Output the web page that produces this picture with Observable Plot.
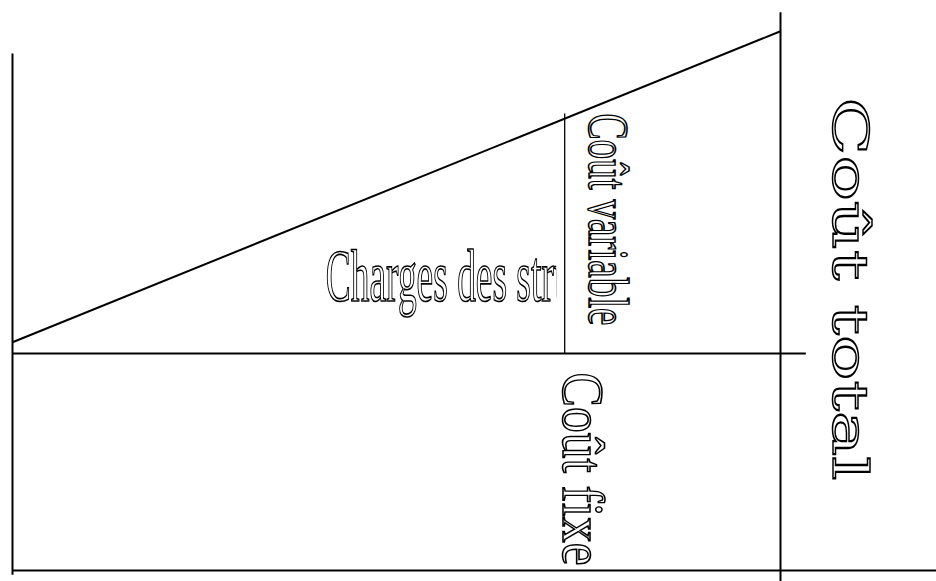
<!DOCTYPE html>
<html>
<head>
<meta charset="utf-8">
<script src="https://cdn.jsdelivr.net/npm/d3@7"></script>
<script src="https://cdn.jsdelivr.net/npm/@observablehq/plot@0.6"></script>
<style>
  html, body { margin: 0; padding: 0; background: #fff; }
  svg { display: block; }
</style>
</head>
<body>
<div id="chart"></div>
<script>
// Diagram data (activity level on x: 0..100, cost on y: fixed cost = 100)
const segX1 = [0,     0,     0,     0,     100,   71.9];
const segY1 = [238.2, 0,     100,   105.2, 257.3, 100];
const segX2 = [0,     120.3, 103.3, 100,   100,   71.9];
const segY2 = [-2,    0,     100,   248.5, -5.1,  210.6];
const segKind = ["main", "main", "main", "main", "main", "inner"];

const labelText = ["Charges des structures", "Coût variable", "Coût fixe", "Coût total"];
const labelX = [40.8, 75.0, 71.7, 106.8];
const labelY = [124.4, 210.6, 91.2, 218.0];
const chargesClipX = 70.8;

const segments = segX1.map((x1, i) => ({x1, y1: segY1[i], x2: segX2[i], y2: segY2[i], kind: segKind[i]}));
const labels = labelText.map((text, i) => ({text, x: labelX[i], y: labelY[i]}));

// styles
const labelStyle = [
  {font: "'Liberation Serif', 'Times New Roman', serif", size: 75, rotate: 0, length: 336, sw: 1.7},
  {font: "'Liberation Serif', 'Times New Roman', serif", size: 56, rotate: 90, length: 212, sw: 1.6},
  {font: "'Liberation Serif', 'Times New Roman', serif", size: 59, rotate: 90, length: 193, sw: 1.6},
  {font: "'DejaVu Serif', serif", size: 49, rotate: 90, length: 383, sw: 1.5}
];

const textMarks = labels.map((d, i) => Plot.text([d], {
  x: "x", y: "y", text: "text",
  textAnchor: "start", lineAnchor: "bottom",
  rotate: labelStyle[i].rotate,
  fontFamily: labelStyle[i].font,
  fontSize: labelStyle[i].size,
  fill: "white", stroke: "black", strokeWidth: labelStyle[i].sw,
  paintOrder: "normal", strokeLinejoin: "miter"
}));

const chart = Plot.plot({
  width: 936, height: 581,
  margin: 0,
  style: {background: "white"},
  x: {domain: [0, 100], range: [12, 780], axis: null},
  y: {domain: [0, 100], range: [570, 353], axis: null},
  marks: [
    Plot.link(segments.filter(d => d.kind === "main"), {x1: "x1", y1: "y1", x2: "x2", y2: "y2", stroke: "black", strokeWidth: 2}),
    Plot.link(segments.filter(d => d.kind === "inner"), {x1: "x1", y1: "y1", x2: "x2", y2: "y2", stroke: "black", strokeWidth: 1.3}),
    ...textMarks
  ]
});

document.getElementById("chart").appendChild(chart);

// text mark groups in mark order
const textGroups = Array.from(chart.children).filter(el => el.tagName.toLowerCase() === "g" && el.querySelector("text"));

// stretch / condense glyphs to match the reference lettering
textGroups.forEach((g, i) => {
  g.querySelectorAll("text").forEach(t => {
    t.setAttribute("textLength", labelStyle[i].length);
    t.setAttribute("lengthAdjust", "spacingAndGlyphs");
  });
});

// clip the "Charges des structures" label before the inner vertical line
const clipPx = chart.scale("x").apply(chargesClipX);
const svg = d3.select(chart);
const defs = svg.insert("defs", ":first-child");
defs.append("clipPath").attr("id", "clip-charges")
  .append("rect").attr("x", 0).attr("y", 0).attr("width", clipPx).attr("height", 581);
if (textGroups[0]) textGroups[0].setAttribute("clip-path", "url(#clip-charges)");
</script>
</body>
</html>
